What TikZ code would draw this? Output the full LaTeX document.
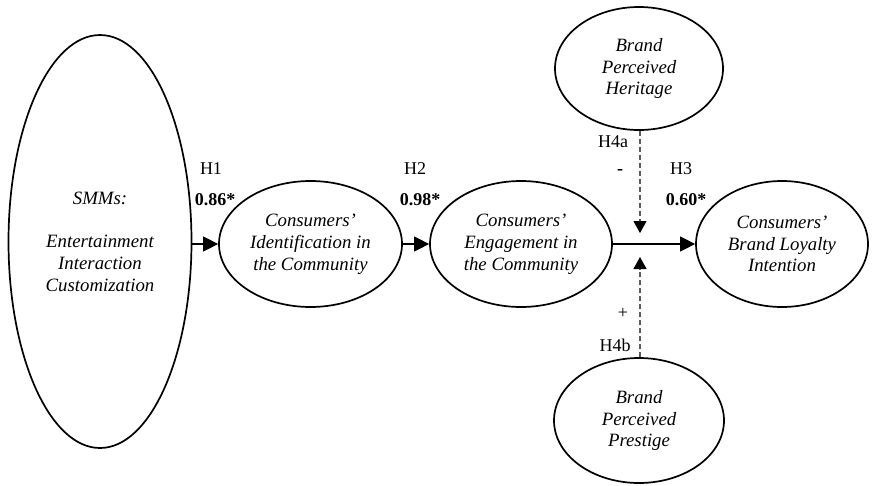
\documentclass[tikz,border=0pt]{standalone}
\usepackage{fontspec}
\setmainfont{Liberation Serif}
\usetikzlibrary{shapes.geometric,arrows.meta}
\begin{document}
\begin{tikzpicture}[x=1pt,y=-1pt,
  construct/.style={draw=black,line width=1.7pt,ellipse,inner sep=0pt,align=center,
     font=\fontsize{18.8}{21.8}\selectfont\itshape},
  arr/.style={line width=1.1pt,-{Triangle[length=15pt,width=15pt]}},
  modarr/.style={line width=1.1pt,dashed,dash pattern=on 5pt off 3pt,draw=black!65,
     -{Triangle[length=12pt,width=13pt,color=black]}},
  lbl/.style={font=\fontsize{18}{21.5}\selectfont,inner sep=0pt},
  coef/.style={font=\fontsize{18}{21.5}\selectfont\bfseries,inner sep=0pt}]
\useasboundingbox (0,0) rectangle (873,485);
\node[construct,minimum width=183pt,minimum height=413pt] (smm) at (100,241.5)
  {SMMs:\\[21.5pt]Entertainment\\Interaction\\Customization};
\node[construct,minimum width=183pt,minimum height=126pt] (ident) at (310.5,244)
  {Consumers'\\Identification in\\the Community};
\node[construct,minimum width=182pt,minimum height=126pt] (engage) at (521,244)
  {Consumers'\\Engagement in\\the Community};
\node[construct,minimum width=172pt,minimum height=126pt] (loyal) at (782,244)
  {Consumers'\\Brand Loyalty\\Intention};
\node[construct,minimum width=168pt,minimum height=123pt] (herit) at (639,68.5)
  {Brand\\Perceived\\Heritage};
\node[construct,minimum width=170pt,minimum height=125pt] (prest) at (639,420.5)
  {Brand\\Perceived\\Prestige};
\coordinate (topTip) at (640,233);
\coordinate (botTip) at (640,257);
\draw[arr] (ident.west -| smm.east) -- (ident.west);
\draw[arr] (ident.east) -- (engage.west);
\draw[arr] (engage.east) -- (loyal.west);
\draw[modarr] (herit.south -| topTip) -- (topTip);
\draw[modarr] (prest.north -| botTip) -- (botTip);
\node[lbl] (h1) at (211,169) {H1};
\node[coef] (c1) at (215,200) {0.86*};
\node[lbl] (h2) at (415,169) {H2};
\node[coef] (c2) at (420,200) {0.98*};
\node[lbl] (h4a) at (613,142) {H4a};
\node[coef] (minus) at (620,172) {-};
\node[lbl] (h3) at (681,169) {H3};
\node[coef] (c3) at (686,200) {0.60*};
\node[lbl] (plus) at (623,313) {+};
\node[lbl] (h4b) at (615,345) {H4b};
\end{tikzpicture}
\end{document}
